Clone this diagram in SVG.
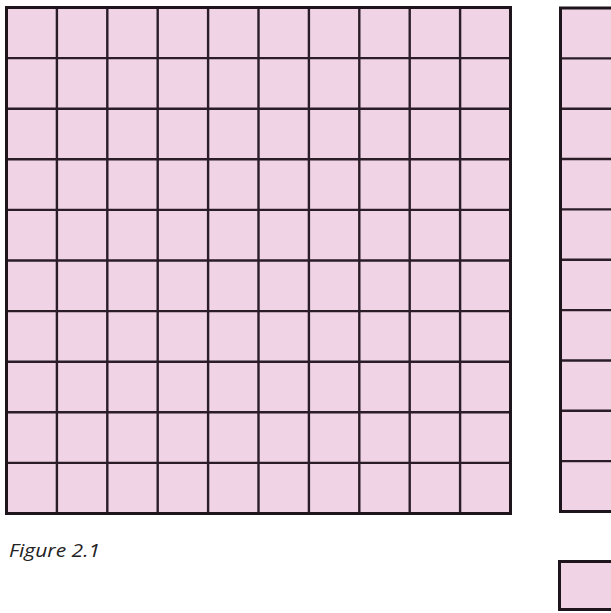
<svg xmlns="http://www.w3.org/2000/svg" width="611" height="613" viewBox="0 0 611 613">
<style>
.cell{fill:#f0d4e6;stroke:none}
.ln{stroke:#2a1d28;stroke-width:2.4;fill:none}
.bd{stroke:#1e141c;stroke-width:3;fill:none}
.cap{font-family:"Open Sans","Liberation Sans",sans-serif;font-style:italic;font-size:19px;fill:#222}
</style>
<rect width="611" height="613" fill="#ffffff"/>
<g id="hundred-square">
<rect class="cell" x="6.5" y="7.5" width="504" height="506"/>
<path class="ln" d="M56.9 7.5V513.5M107.3 7.5V513.5M157.7 7.5V513.5M208.1 7.5V513.5M258.5 7.5V513.5M308.9 7.5V513.5M359.3 7.5V513.5M409.7 7.5V513.5M460.1 7.5V513.5M6.5 58.1H510.5M6.5 108.7H510.5M6.5 159.3H510.5M6.5 209.9H510.5M6.5 260.5H510.5M6.5 311.1H510.5M6.5 361.7H510.5M6.5 412.3H510.5M6.5 462.9H510.5"/>
<rect class="bd" x="6.5" y="7.5" width="504" height="506"/>
</g>
<g id="ten-column">
<rect class="cell" x="560.5" y="8" width="60" height="503.5"/>
<path class="ln" d="M560.5 58.35H620M560.5 108.7H620M560.5 159.05H620M560.5 209.4H620M560.5 259.75H620M560.5 310.1H620M560.5 360.45H620M560.5 410.8H620M560.5 461.15H620"/>
<rect class="bd" x="560.5" y="8" width="60" height="503.5"/>
</g>
<g id="unit-square">
<rect class="cell" x="559.5" y="561.5" width="60" height="48"/>
<rect class="bd" x="559.5" y="561.5" width="60" height="48"/>
</g>
<text class="cap" x="9" y="556.5" textLength="91" lengthAdjust="spacingAndGlyphs">Figure 2.1</text>
</svg>
